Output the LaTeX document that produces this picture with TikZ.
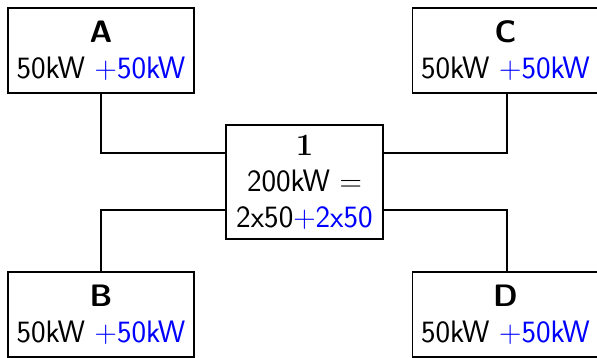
\documentclass[tikz,border=0pt]{standalone}
\usepackage{fontspec}
\begin{document}
\begin{tikzpicture}[x=1pt,y=-1pt,
  txt/.style={font=\sffamily\fontsize{31}{36}\selectfont, align=center, inner sep=0pt},
  unit/.style={txt, draw, line width=1.3pt, minimum width=186pt, minimum height=85pt},
  hub/.style={txt, draw, line width=1.3pt, minimum width=157pt, minimum height=114pt},
  link/.style={draw, line width=1.3pt}]
\useasboundingbox (0,0) rectangle (597,358);
\newcommand{\pl}{{\rmfamily +}}
\newcommand{\eqs}{{\rmfamily =}}
\node[unit] (A) at (101,50.5) {{\bfseries A}\\50kW \textcolor{blue}{\pl50kW}};
\node[unit] (C) at (505.5,50.5) {{\bfseries C}\\50kW \textcolor{blue}{\pl50kW}};
\node[unit] (B) at (101,314.5) {{\bfseries B}\\50kW \textcolor{blue}{\pl50kW}};
\node[unit] (D) at (505.5,314.5) {{\bfseries D}\\50kW \textcolor{blue}{\pl50kW}};
\node[hub] (one) at (304.5,182) {{\rmfamily\bfseries 1}\\200kW \eqs\\2x50\textcolor{blue}{\pl2x50}};
\draw[link] (A.south) |- ([yshift=29pt]one.west);
\draw[link] ([xshift=1.5pt]C.south) |- ([yshift=29pt]one.east);
\draw[link] (B.north) |- ([yshift=-28pt]one.west);
\draw[link] ([xshift=1.5pt]D.north) |- ([yshift=-28pt]one.east);
\end{tikzpicture}
\end{document}
